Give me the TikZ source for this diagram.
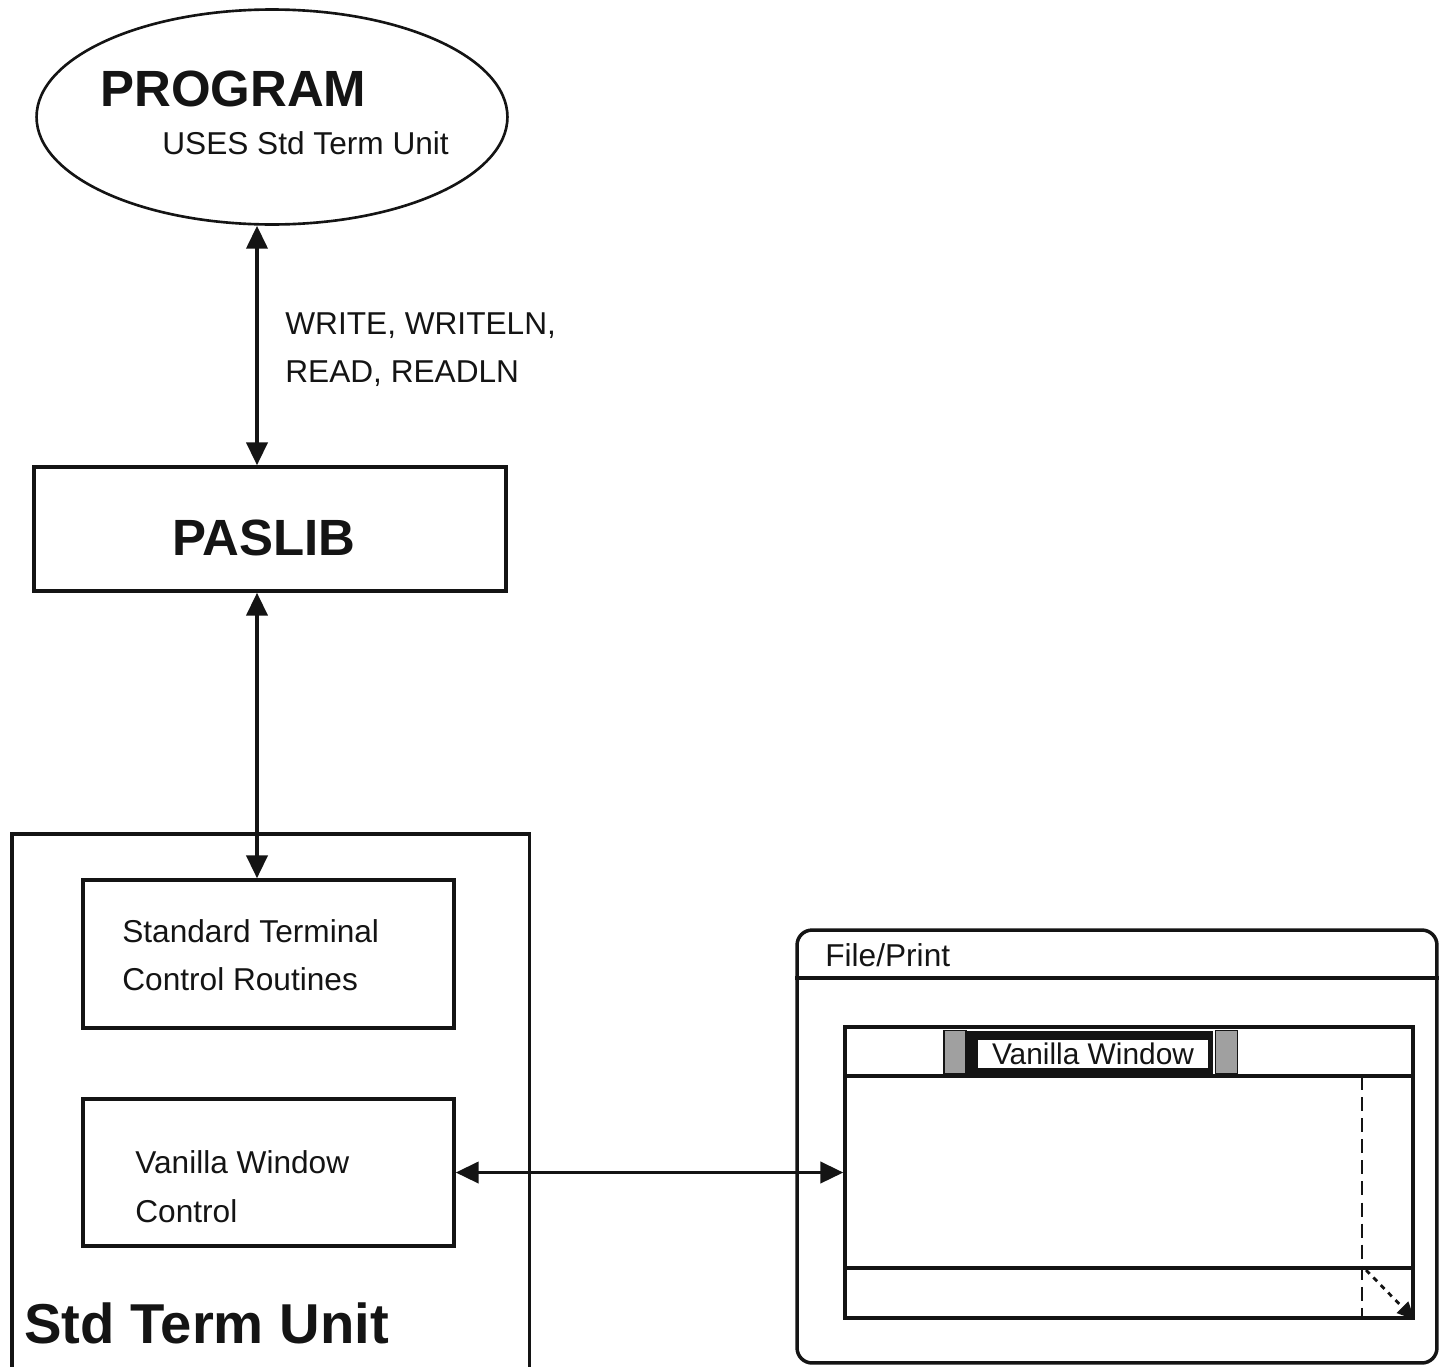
\documentclass[tikz,border=0pt]{standalone}
\usepackage{fontspec}
\setmainfont{Liberation Sans}
\usepackage{tikz}
\usetikzlibrary{
  shapes.geometric,
  arrows.meta,
  positioning
}
\definecolor{InkBlack}{RGB}{20, 20, 20}
\definecolor{Stipple}{RGB}{160, 160, 160}
\tikzset{
  ink/.style={draw=InkBlack, line width=2pt},
  blockbox/.style={ink, rectangle, inner sep=0pt},
  biarrow/.style={InkBlack, line width=2pt, {Triangle[length=13pt,width=12pt]}-{Triangle[length=13pt,width=12pt]}},
  plaintext/.style={font=\fontsize{18}{22}\selectfont, text=InkBlack, inner sep=0pt, anchor=base west},
  bigtext/.style={font=\fontsize{29}{34}\selectfont\bfseries, text=InkBlack, inner sep=0pt, anchor=base west},
  stipplebox/.style={draw=InkBlack, fill=Stipple, line width=0.8pt, inner sep=0pt, minimum width=0.44cm, minimum height=0.86cm}
}

\begin{document}
\begin{tikzpicture}[x=0.02cm, y=-0.02cm]
            \useasboundingbox (0,0) rectangle (1446,1366);
            % program and paslib
            \node[ink, line width=1.5pt, ellipse, minimum width=9.42cm, minimum height=4.3cm] (prog) at (272,117) {};
            \node[bigtext] (progtitle) at (100,106) {PROGRAM};
            \node[plaintext] (progsub) at (162,154) {USES Std Term Unit};
            \node[blockbox, minimum width=9.44cm, minimum height=2.48cm] (paslib) at (270,529) {};
            \node[bigtext] (pastitle) at (172,555) {PASLIB};
            \coordinate (axis) at (257,0);
            \draw[biarrow] (prog.south -| axis) -- (paslib.north -| axis);
            \node[plaintext] (calls1) at (285,334) {WRITE, WRITELN,};
            \node[plaintext] (calls2) at (285,382) {READ, READLN};

            % the unit
            \node[blockbox, anchor=north west, minimum width=10.36cm, minimum height=10.9cm] (unit) at (10,832) {};
            \node[blockbox, minimum width=7.42cm, minimum height=2.96cm] (stdterm) at (268.5,954) {};
            \node[plaintext] (stdterm1) at (122,942) {Standard Terminal};
            \node[plaintext] (stdterm2) at (122,990) {Control Routines};
            \node[blockbox, minimum width=7.42cm, minimum height=2.94cm] (vanilla) at (268.5,1172.5) {};
            \node[plaintext] (vanilla1) at (135,1173) {Vanilla Window};
            \node[plaintext] (vanilla2) at (135,1222) {Control};
            \node[bigtext, font=\fontsize{32}{38}\selectfont\bfseries] (unittitle) at (24,1343) {Std Term Unit};
            \draw[biarrow] (paslib.south -| axis) -- (stdterm.north -| axis);

            % the screen
            \node[ink, rounded corners=0.3cm, minimum width=12.8cm, minimum height=8.66cm] (screen) at (1117,1146.5) {};
            \coordinate (menuline) at (0,978);
            \draw[ink] (screen.west |- menuline) -- (screen.east |- menuline);
            \node[plaintext] (menu) at (825,966) {File/Print};
            \node[blockbox, minimum width=11.36cm, minimum height=5.82cm] (win) at (1129,1172.5) {};
            \coordinate (barline) at (0,1076);
            \coordinate (hscroll) at (0,1268);
            \coordinate (vscroll) at (1362,0);
            \draw[ink, line width=2.4pt] (win.west |- barline) -- (win.east |- barline);
            \draw[ink, line width=2.4pt] (win.west |- hscroll) -- (win.east |- hscroll);
            \draw[InkBlack, line width=1.4pt, dash pattern=on 8pt off 4pt] (vscroll |- barline) -- (vscroll |- win.south);
            \node[stipplebox] (lstip) at (955,1052) {};
            \node[fill=InkBlack, inner sep=0pt, minimum width=4.94cm, minimum height=0.86cm] (wtitle) at (1089.5,1052) {};
            \node[fill=white, font=\fontsize{17}{21}\selectfont, text=InkBlack, inner sep=0pt, minimum width=4.6cm, minimum height=0.56cm] (wname) at (1093,1054) {Vanilla Window};
            \node[stipplebox] (rstip) at (1226.5,1052) {};
            \coordinate (grip) at (1366,1270);
            \draw[InkBlack, line width=1.6pt, dashed, -{Triangle[length=10pt,width=9pt]}] (grip) -- (win.south east);
            \draw[biarrow] (vanilla.east) -- (win.west);
        \end{tikzpicture}
\end{document}
